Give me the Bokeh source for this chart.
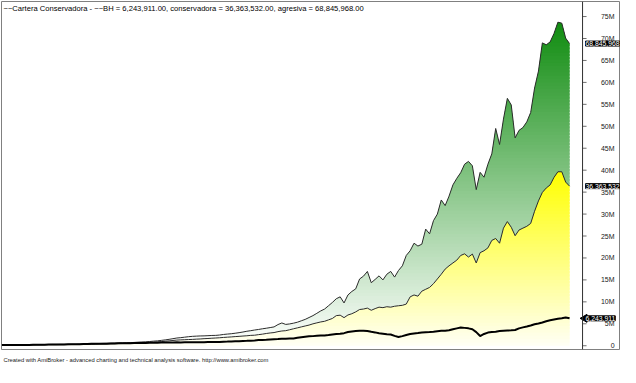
import numpy as np
from bokeh.plotting import figure
from bokeh.models import Range1d, Label, Title, Grid, Span
from bokeh.core.properties import value
from bokeh.embed import file_html
from bokeh.resources import INLINE

# ---- data (millions), one value per bar ----
agresiva = [
    0.21, 0.21, 0.21, 0.21, 0.21, 0.21, 0.21, 0.21, 0.24, 0.26, 0.26, 0.28, 0.28, 0.30, 0.30, 0.32,
    0.32, 0.32, 0.34, 0.34, 0.36, 0.39, 0.41, 0.43, 0.47, 0.51, 0.54, 0.56, 0.58, 0.60, 0.64, 0.66,
    0.69, 0.71, 0.75, 0.81, 0.86, 0.90, 0.96, 1.05, 1.11, 1.22, 1.33, 1.46, 1.61, 1.76, 1.84, 1.95,
    2.06, 2.14, 2.19, 2.23, 2.25, 2.29, 2.34, 2.36, 2.44, 2.57, 2.66, 2.74, 2.85, 2.98, 3.13, 3.30,
    3.43, 3.58, 3.71, 3.86, 3.99, 4.14, 4.29, 4.82, 5.19, 4.86, 4.97, 5.14, 5.36, 5.68, 6.00, 6.43,
    6.86, 7.39, 7.93, 8.36, 9.11, 9.86, 10.71, 11.14, 9.75, 11.57, 12.36, 12.96, 15.21, 15.86, 16.93, 14.36,
    15.11, 15.92, 15.00, 16.29, 16.93, 15.64, 17.14, 18.21, 20.57, 21.64, 23.36, 22.71, 23.14, 26.57, 25.50, 28.50,
    30.00, 33.21, 31.93, 34.07, 36.64, 38.14, 39.43, 41.36, 42.00, 41.00, 35.57, 39.50, 38.40, 41.36, 43.71, 49.50,
    45.86, 51.64, 56.36, 54.86, 47.36, 49.07, 49.71, 51.00, 53.14, 58.71, 62.57, 69.00, 68.57, 69.21, 71.14, 73.71,
    73.50, 70.07, 68.845968,
]
conservadora = [
    0.17, 0.17, 0.17, 0.17, 0.17, 0.17, 0.17, 0.19, 0.19, 0.21, 0.21, 0.21, 0.24, 0.24, 0.24, 0.26,
    0.26, 0.26, 0.28, 0.28, 0.30, 0.30, 0.32, 0.34, 0.36, 0.39, 0.41, 0.43, 0.45, 0.47, 0.49, 0.51,
    0.54, 0.56, 0.58, 0.62, 0.66, 0.71, 0.75, 0.81, 0.88, 0.94, 1.03, 1.11, 1.20, 1.29, 1.33, 1.37,
    1.41, 1.44, 1.50, 1.54, 1.61, 1.65, 1.71, 1.76, 1.82, 1.89, 1.95, 2.01, 2.08, 2.14, 2.21, 2.27,
    2.36, 2.40, 2.53, 2.64, 2.79, 2.91, 3.00, 3.21, 3.36, 3.43, 3.64, 3.86, 4.07, 4.29, 4.50, 4.71,
    4.99, 5.21, 5.42, 5.57, 5.89, 6.21, 6.86, 6.96, 6.40, 7.01, 7.29, 7.71, 8.25, 8.36, 8.57, 8.08,
    8.46, 8.79, 8.68, 8.89, 8.79, 9.00, 9.11, 9.21, 9.49, 11.14, 11.57, 11.29, 12.43, 12.86, 13.29, 14.14,
    15.21, 16.29, 17.46, 18.21, 18.86, 19.50, 20.57, 20.94, 20.21, 20.89, 18.86, 21.21, 21.64, 22.29, 24.00, 24.43,
    23.36, 26.79, 28.29, 27.00, 25.07, 26.36, 26.79, 27.21, 27.86, 30.64, 33.00, 34.93, 35.94, 36.64, 38.36, 39.64,
    39.64, 37.29, 36.363532,
]
bh = [
    0.15, 0.15, 0.15, 0.17, 0.17, 0.17, 0.19, 0.19, 0.21, 0.21, 0.24, 0.24, 0.26, 0.26, 0.28, 0.28,
    0.30, 0.32, 0.32, 0.34, 0.36, 0.39, 0.41, 0.43, 0.43, 0.43, 0.45, 0.47, 0.49, 0.51, 0.54, 0.56,
    0.58, 0.58, 0.60, 0.62, 0.64, 0.64, 0.66, 0.66, 0.69, 0.71, 0.71, 0.73, 0.75, 0.77, 0.75, 0.77,
    0.79, 0.79, 0.79, 0.81, 0.81, 0.84, 0.84, 0.86, 0.86, 0.90, 0.94, 0.99, 1.01, 1.03, 1.07, 1.11,
    1.16, 1.22, 1.29, 1.33, 1.37, 1.44, 1.50, 1.54, 1.61, 1.61, 1.63, 1.65, 1.80, 1.93, 2.04, 2.14,
    2.19, 2.25, 2.31, 2.36, 2.44, 2.57, 2.66, 2.72, 2.87, 3.11, 3.26, 3.36, 3.43, 3.43, 3.36, 3.17,
    3.04, 2.83, 2.72, 2.61, 2.57, 2.25, 1.99, 2.19, 2.46, 2.68, 2.79, 2.89, 3.00, 3.06, 3.11, 3.21,
    3.32, 3.39, 3.43, 3.54, 3.75, 3.96, 4.14, 4.07, 3.96, 3.75, 3.11, 2.21, 2.68, 3.00, 3.11, 3.21,
    3.36, 3.43, 3.47, 3.51, 3.58, 3.96, 4.18, 4.39, 4.61, 4.89, 5.08, 5.31, 5.57, 5.79, 5.96, 6.13,
    6.26, 6.43, 6.243911,
]
bars = list(range(len(agresiva)))

tick_values = [0, 5e6, 10e6, 15e6, 20e6, 25e6, 30e6, 35e6, 40e6, 45e6, 50e6, 55e6, 60e6, 65e6, 70e6, 75e6]
tick_labels = ["0", "5M", "10M", "15M", "20M", "25M", "30M", "35M", "40M", "45M", "50M", "55M",
               "60M", "65M", "70M", "75M"]

title_text = ("~~Cartera Conservadora - ~~BH = 6,243,911.00, conservadora = 36,363,532.00, "
              "agresiva = 68,845,968.00")
footer_text = ("Created with AmiBroker - advanced charting and technical analysis software. "
               "http://www.amibroker.com")
last_value_texts = ["68,845,968", "36,363,532", "6,243,911"]

FONT = "Liberation Sans"

agr_v = np.array(agresiva) * 1e6
con_v = np.array(conservadora) * 1e6
bh_v = np.array(bh) * 1e6

X0, X1 = -0.1, 159.1          # frame spans to the canvas' right edge
AXIS_X = 149.34               # where the price axis line sits
Y0, Y1 = -0.857e6, 78.43e6

p = figure(width=620, height=367, output_backend="svg", toolbar_location=None,
           x_range=Range1d(X0, X1), y_range=Range1d(Y0, Y1),
           x_axis_location=None, y_axis_location=None,
           min_border_left=1, min_border_top=1, min_border_right=0, min_border_bottom=12,
           background_fill_color="white", border_fill_color="white")
p.outline_line_color = "#808080"
p.outline_line_width = 1
for obj in list(p.center):
    if isinstance(obj, Grid):
        obj.visible = False


def mix(c0, c1, f):
    f = max(0.0, min(1.0, f))
    r = int(round(c0[0] + (c1[0] - c0[0]) * f))
    g = int(round(c0[1] + (c1[1] - c0[1]) * f))
    b = int(round(c0[2] + (c1[2] - c0[2]) * f))
    return "#%02x%02x%02x" % (r, g, b)


WHITE = (255, 255, 255)
GREEN_TOP = (16, 140, 16)
YELLOW_TOP = (255, 255, 0)
YELLOW_BOTTOM = (255, 255, 245)

# fine geometric sampling of the straight segments between bars (for the gradient bands only)
xs = np.linspace(bars[0], bars[-1], (len(bars) - 1) * 16 + 1)
agr_f = np.interp(xs, bars, agr_v)
con_f = np.interp(xs, bars, con_v)

n_bands = 100
edges = np.linspace(0, 75e6, n_bands + 1)
agr_max = agr_v.max()
con_max = con_v.max()

# yellow gradient under conservadora
for k in range(n_bands):
    b, t = edges[k], edges[k + 1]
    if b >= con_max:
        break
    t2 = t + (t - b) * 0.7
    mid = 0.5 * (b + t)
    col = mix(YELLOW_BOTTOM, YELLOW_TOP, mid / con_max)
    hi = np.clip(con_f, b, t2)
    p.varea(x=xs, y1=np.full(len(xs), b), y2=hi, fill_color=col, fill_alpha=1.0)

# green gradient between conservadora and agresiva
for k in range(n_bands):
    b, t = edges[k], edges[k + 1]
    if b >= agr_max:
        break
    t2 = t + (t - b) * 0.7
    mid = 0.5 * (b + t)
    col = mix(WHITE, GREEN_TOP, mid / agr_max)
    lo = np.clip(con_f, b, t2)
    hi = np.clip(agr_f, b, t2)
    if np.any(hi > lo):
        p.varea(x=xs, y1=lo, y2=hi, fill_color=col, fill_alpha=1.0)

p.line(bars, agr_v, line_color="#2b2b2b", line_width=1)
p.line(bars, con_v, line_color="#2b2b2b", line_width=1)
p.line(bars, bh_v, line_color="black", line_width=2)

# price axis (AmiBroker style, on the right of the data area)
p.add_layout(Span(location=AXIS_X, dimension="height", line_color="#303030", line_width=1))
p.ray(x=[AXIS_X] * len(tick_values), y=tick_values, length=4, length_units="screen", angle=0,
      line_color="#707070", line_width=1)
p.text(x=[AXIS_X] * len(tick_values), y=tick_values, text=tick_labels, x_offset=32,
       text_align="right", text_baseline="middle", text_font=value(FONT),
       text_font_size=value("7px"), text_color="#202020")

p.add_layout(Label(x=X0, y=Y1, x_offset=2, y_offset=-2, text=title_text,
                   text_baseline="top", text_align="left", text_font=FONT,
                   text_font_size="7.6px", text_color="black"))

last_vals = [agr_v[-1], con_v[-1], bh_v[-1]]
for val, txt in zip(last_vals, last_value_texts):
    p.add_layout(Label(x=AXIS_X, y=val, x_offset=3, text=txt, text_baseline="middle",
                       text_align="left", text_font=FONT, text_font_size="6.8px",
                       text_color="white", background_fill_color="black",
                       background_fill_alpha=1.0, border_line_color="black"))

# little pointer on the BH value tag
p.scatter(x=[AXIS_X + 0.55], y=[bh_v[-1]], marker="triangle", angle=np.pi / 2, size=8,
          fill_color="black", line_color="black")

p.add_layout(Title(text=footer_text, align="left", text_font=FONT, text_font_size="5.8px",
                   text_font_style="normal", text_color="#202020", offset=2), "below")

open("out.html", "w").write(file_html(p, INLINE))
